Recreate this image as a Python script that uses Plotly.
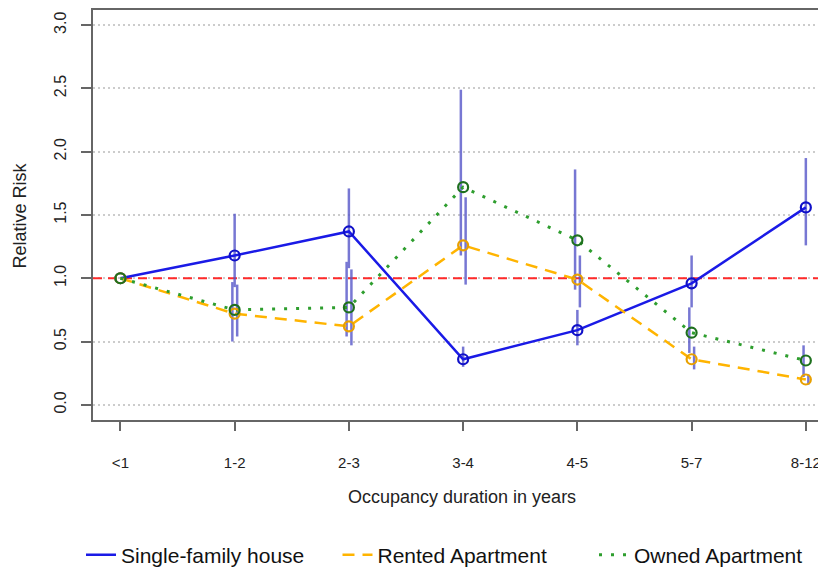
import plotly.graph_objects as go

categories = ["<1", "1-2", "2-3", "3-4", "4-5", "5-7", "8-12"]

single_family = [1.00, 1.18, 1.37, 0.36, 0.59, 0.96, 1.56]
single_family_lo = [None, 0.93, 1.08, 0.30, 0.47, 0.77, 1.26]
single_family_hi = [None, 1.51, 1.71, 0.46, 0.75, 1.18, 1.95]

rented = [1.00, 0.72, 0.62, 1.26, 0.99, 0.36, 0.20]
rented_lo = [None, 0.54, 0.47, 0.95, 0.77, 0.28, 0.16]
rented_hi = [None, 0.95, 1.07, 1.64, 1.18, 0.46, 0.24]

owned = [1.00, 0.75, 0.77, 1.72, 1.30, 0.57, 0.35]
owned_lo = [None, 0.50, 0.54, 1.18, 0.91, 0.41, 0.22]
owned_hi = [None, 0.97, 1.13, 2.49, 1.86, 0.77, 0.47]

y_ticks = [0.0, 0.5, 1.0, 1.5, 2.0, 2.5, 3.0]
reference_level = 1.0

FONT = "Liberation Sans, Arial, sans-serif"
CI_COLOR = "rgba(85,85,200,0.8)"

# page is offset by the default 8px body margin; figure sized to fit the window
W, H = 818, 566
L, T, B = 84.6, 2, 154
PW = W - L          # plot-area width in px
PH = H - T - B      # plot-area height in px
X_RANGE = [-0.24, -0.24 + PW / 114.3]

series = [
    dict(name="Single-family house", y=single_family, lo=single_family_lo, hi=single_family_hi,
         line=dict(color="#1a1ae6", width=2.5, dash="solid"), mcolor="#1010c8", off=0.0,
         legend="legend", lx=73),
    dict(name="Rented Apartment", y=rented, lo=rented_lo, hi=rented_hi,
         line=dict(color="#ffb400", width=2.5, dash="12px,8px"), mcolor="#e8a000", off=0.022,
         legend="legend2", lx=73 + 256.5),
    dict(name="Owned Apartment", y=owned, lo=owned_lo, hi=owned_hi,
         line=dict(color="#2e9e2e", width=3, dash="3px,9px"), mcolor="#1e701e", off=-0.02,
         legend="legend3", lx=73 + 513),
]

fig = go.Figure()
xs = list(range(len(categories)))

# reference line at RR = 1 (drawn first: above grid, below data)
fig.add_trace(go.Scatter(x=X_RANGE, y=[reference_level, reference_level], mode="lines",
                         line=dict(color="#ff2a2a", width=2, dash="9px,6px"),
                         showlegend=False, hoverinfo="skip"))

# confidence-interval bars
for s in series:
    idx = [i for i in xs if s["lo"][i] is not None]
    fig.add_trace(go.Scatter(
        x=[i + s["off"] for i in idx],
        y=[s["y"][i] for i in idx],
        mode="markers", marker=dict(size=1, opacity=0),
        error_y=dict(type="data", symmetric=False,
                     array=[s["hi"][i] - s["y"][i] for i in idx],
                     arrayminus=[s["y"][i] - s["lo"][i] for i in idx],
                     color=CI_COLOR, thickness=2.5, width=0),
        showlegend=False, hoverinfo="skip"))

for s in series:
    fig.add_trace(go.Scatter(x=xs, y=s["y"], mode="lines", name=s["name"], line=s["line"],
                             legend=s["legend"]))
for s in series:
    fig.add_trace(go.Scatter(x=xs, y=s["y"], mode="markers", showlegend=False,
                             marker=dict(symbol="circle-open", size=10, color=s["mcolor"],
                                         line=dict(width=2.2, color=s["mcolor"]))))

def legend_box(lx):
    return dict(orientation="h", xref="container", yref="container",
                x=lx / W, y=1 - 547 / H, xanchor="left", yanchor="middle",
                bgcolor="rgba(0,0,0,0)",
                font=dict(size=21, family=FONT, color="#111"))

fig.update_layout(
    width=W, height=H,
    margin=dict(l=L, r=0, t=T, b=B),
    paper_bgcolor="white", plot_bgcolor="white",
    font=dict(family=FONT, size=16, color="#222"),
    xaxis=dict(range=X_RANGE, tickvals=xs, ticktext=categories,
               tickfont=dict(size=15, family=FONT, color="#222"),
               ticks="outside", ticklen=9, tickwidth=1.5, tickcolor="#666",
               showline=True, linecolor="#666", linewidth=1.5, mirror=True,
               showgrid=False, zeroline=False, ticklabelstandoff=19),
    yaxis=dict(range=[-0.12, 3.12], tickvals=y_ticks, ticktext=[f"{v:.1f}" for v in y_ticks],
               tickfont=dict(size=16, family=FONT, color="#222"),
               tickangle=-90, ticks="outside", ticklen=10, tickwidth=1.5, tickcolor="#666",
               showline=True, linecolor="#666", linewidth=1.5, mirror=False,
               showgrid=True, gridcolor="#cccccc", gridwidth=1.5, griddash="2px,3px",
               zeroline=False, ticklabelstandoff=9),
    legend=legend_box(series[0]["lx"]),
    legend2=legend_box(series[1]["lx"]),
    legend3=legend_box(series[2]["lx"]),
    annotations=[
        dict(text="Occupancy duration in years", xref="paper", yref="paper",
             x=(462 - 92.6) / PW, y=(420 - 497) / PH, showarrow=False,
             xanchor="center", yanchor="middle", font=dict(size=18, family=FONT, color="#222")),
        dict(text="Relative Risk", xref="paper", yref="paper",
             x=(20 - 92.6) / PW, y=0.5, showarrow=False, textangle=-90,
             xanchor="center", yanchor="middle", font=dict(size=18, family=FONT, color="#222")),
    ],
)

fig.write_html("out.html")
